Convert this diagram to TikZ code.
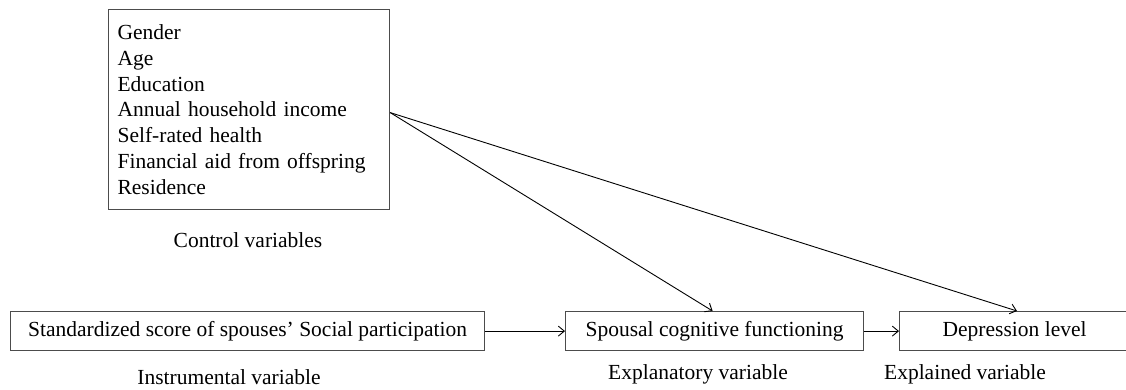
\documentclass[tikz,border=0pt]{standalone}
\usepackage{fontspec}
\setmainfont{Liberation Serif}
\usetikzlibrary{arrows.meta}
\begin{document}
\begin{tikzpicture}[x=1pt,y=-1pt,
  every node/.style={font=\fontsize{21.5}{25.8}\selectfont},
  varbox/.style={draw=black!70, line width=1.2pt, minimum height=39pt, inner sep=0pt, anchor=north west},
  lbl/.style={inner sep=0pt},
  conn/.style={line width=0.9pt, -{Straight Barb[length=6pt,width=10pt]}}
]
\useasboundingbox (0,0) rectangle (1126,389);
\node[draw=black!70, line width=1.2pt, anchor=north west, text width=263pt, minimum height=200pt, inner sep=9pt, align=left] (ctrl) at (108,9)
  {Gender\\Age\\Education\\Annual household income\\Self-rated health\\Financial aid from offspring\\Residence};
\node[varbox, minimum width=474pt] (std) at (10,311) {Standardized score of spouses' Social participation};
\node[varbox, minimum width=298pt] (sp) at (565,311) {Spousal cognitive functioning};
\node[varbox, minimum width=230pt] (dep) at (899,311) {Depression level};
\node[lbl] (lc) at (248,240) {Control variables};
\node[lbl] (li) at (229,377) {Instrumental variable};
\node[lbl] (le) at (698,374) {Explanatory variable};
\node[lbl] (ld) at (965,374) {Explained variable};
\draw[conn] ([yshift=-3pt]ctrl.east) -- ([xshift=-2pt]sp.north);
\draw[conn] ([yshift=-3pt]ctrl.east) -- (1017,311) coordinate (depin);
\draw[conn] (std.east) -- (sp.west);
\draw[conn] (sp.east) -- (dep.west);
\end{tikzpicture}
\end{document}
